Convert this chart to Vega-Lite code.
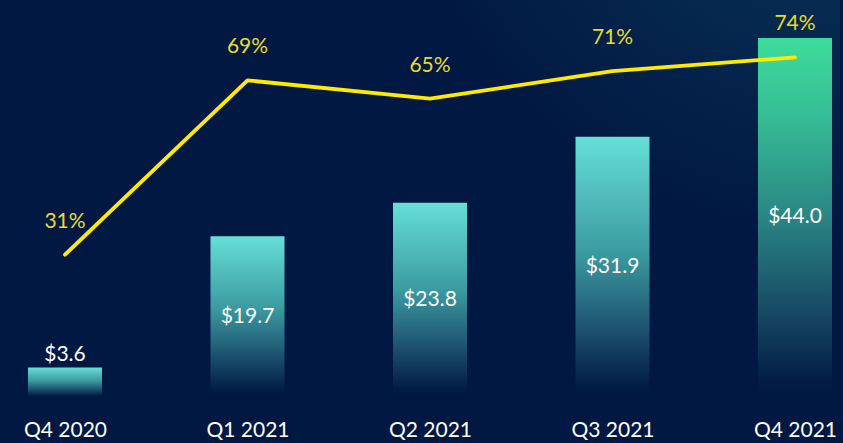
{
  "$schema": "https://vega.github.io/schema/vega-lite/v6.json",
  "width": 820,
  "height": 397,
  "autosize": {"type": "none"},
  "padding": {"left": 20, "top": 0, "right": 3, "bottom": 46},
  "background": "#011842",
  "config": {
    "font": "Lato",
    "view": {
      "stroke": null,
      "fill": {
        "gradient": "radial",
        "x1": 1, "y1": 0, "r1": 0,
        "x2": 1, "y2": 0, "r2": 0.55,
        "stops": [
          {"offset": 0, "color": "#0c3c58"},
          {"offset": 0.5, "color": "#062a4f"},
          {"offset": 1, "color": "#011842"}
        ]
      }
    }
  },
  "data": {
    "values": [
      {"q": "Q4 2020", "rev": 3.6, "pct": 31, "revLabel": "$3.6", "pctLabel": "31%"},
      {"q": "Q1 2021", "rev": 19.7, "pct": 69, "revLabel": "$19.7", "pctLabel": "69%"},
      {"q": "Q2 2021", "rev": 23.8, "pct": 65, "revLabel": "$23.8", "pctLabel": "65%"},
      {"q": "Q3 2021", "rev": 31.9, "pct": 71, "revLabel": "$31.9", "pctLabel": "71%"},
      {"q": "Q4 2021", "rev": 44.0, "pct": 74, "revLabel": "$44.0", "pctLabel": "74%"}
    ]
  },
  "encoding": {
    "x": {
      "field": "q",
      "type": "ordinal",
      "sort": null,
      "scale": {"type": "point", "padding": 0.2466},
      "axis": {
        "title": null,
        "domain": false,
        "ticks": false,
        "grid": false,
        "labelAngle": 0,
        "labelColor": "#ffffff",
        "labelFontSize": 21,
        "labelFont": "Lato",
        "labelBaseline": "middle",
        "labelPadding": 33
      }
    }
  },
  "layer": [
    {
      "encoding": {
        "y": {"field": "rev", "type": "quantitative", "scale": {"domain": [0, 48.65], "nice": false, "zero": true}, "axis": null}
      },
      "layer": [
        {
          "transform": [{"filter": "datum.q !== 'Q4 2021'"}],
          "mark": {
            "type": "bar",
            "size": 74,
            "color": {
              "gradient": "linear",
              "x1": 0, "y1": 0, "x2": 0, "y2": 1,
              "stops": [
                {"offset": 0, "color": "#66dfd6"},
                {"offset": 0.45, "color": "#3b9aa0"},
                {"offset": 0.75, "color": "#1c4f6e"},
                {"offset": 0.96, "color": "#021c44"},
                {"offset": 1, "color": "#011842"}
              ]
            }
          }
        },
        {
          "transform": [{"filter": "datum.q === 'Q4 2021'"}],
          "mark": {
            "type": "bar",
            "size": 74,
            "color": {
              "gradient": "linear",
              "x1": 0, "y1": 0, "x2": 0, "y2": 1,
              "stops": [
                {"offset": 0, "color": "#3ddc9c"},
                {"offset": 0.2, "color": "#36c096"},
                {"offset": 0.5, "color": "#2a8584"},
                {"offset": 0.75, "color": "#194c66"},
                {"offset": 0.96, "color": "#021c44"},
                {"offset": 1, "color": "#011842"}
              ]
            }
          }
        },
        {
          "transform": [{"filter": "datum.rev >= 5"}, {"calculate": "datum.rev / 2", "as": "mid"}],
          "mark": {"type": "text", "color": "#ffffff", "fontSize": 21, "baseline": "middle", "align": "center"},
          "encoding": {
            "y": {"field": "mid", "type": "quantitative"},
            "text": {"field": "revLabel"}
          }
        },
        {
          "transform": [{"filter": "datum.rev < 5"}],
          "mark": {"type": "text", "color": "#ffffff", "fontSize": 21, "baseline": "middle", "align": "center", "dy": -13},
          "encoding": {
            "text": {"field": "revLabel"}
          }
        }
      ]
    },
    {
      "encoding": {
        "y": {"field": "pct", "type": "quantitative", "scale": {"domain": [0, 86.5], "nice": false, "zero": true}, "axis": null}
      },
      "layer": [
        {
          "mark": {"type": "line", "color": "#ffea00", "strokeWidth": 3.8, "strokeCap": "round", "strokeJoin": "round"}
        },
        {
          "mark": {"type": "text", "color": "#e9dc2a", "fontSize": 21, "baseline": "middle", "align": "center", "dy": -33},
          "encoding": {"text": {"field": "pctLabel"}}
        }
      ]
    }
  ],
  "resolve": {"scale": {"y": "independent"}}
}
